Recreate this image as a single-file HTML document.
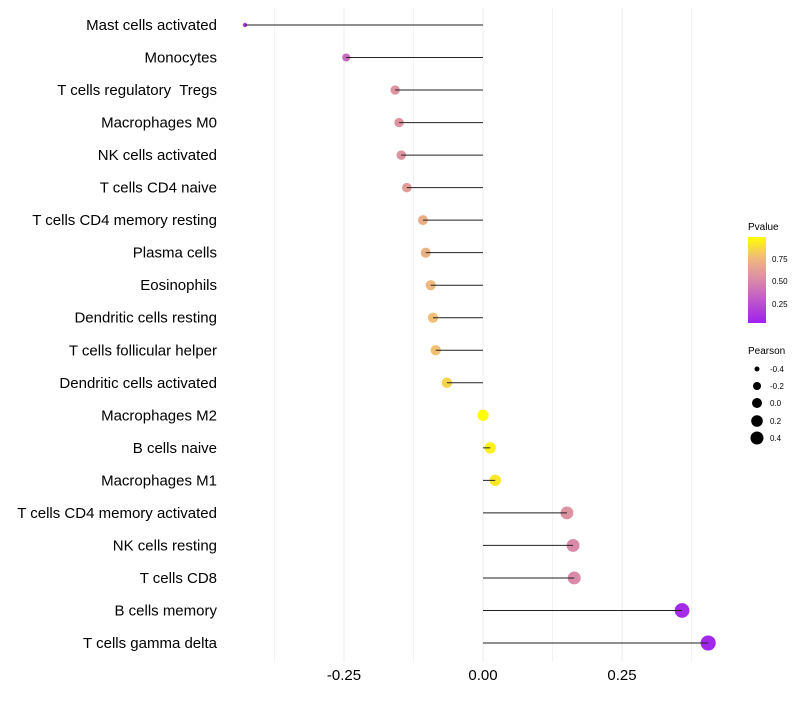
<!DOCTYPE html>
<html><head><meta charset="utf-8"><style>
body{margin:0;background:#fff;font-family:"Liberation Sans",sans-serif;}
svg text{font-family:"Liberation Sans",sans-serif;white-space:pre;}
</style></head><body>
<svg id="chart" width="800" height="700">
<defs><linearGradient id="pg" x1="0" y1="1" x2="0" y2="0">
<stop offset="0" stop-color="#A020F0"/><stop offset="0.5" stop-color="#D98AA8"/><stop offset="0.75" stop-color="#EFB880"/><stop offset="1" stop-color="#FFFF00"/></linearGradient></defs>
<g id="grid"></g><g id="dots"></g><g id="stems"></g><g id="labels"></g>
<g>
<text x="748" y="230" font-size="10">Pvalue</text>
<rect x="748" y="237" width="18" height="86" fill="url(#pg)"/>
<text x="772" y="262" font-size="8">0.75</text>
<text x="772" y="284" font-size="8">0.50</text>
<text x="772" y="307" font-size="8">0.25</text>
</g>
<g>
<text x="748" y="354" font-size="10">Pearson</text>
<circle cx="757" cy="369" r="2.5"/><text x="770" y="372" font-size="8">-0.4</text>
<circle cx="757" cy="386" r="4"/><text x="770" y="389" font-size="8">-0.2</text>
<circle cx="757" cy="403" r="5"/><text x="770" y="406" font-size="8">0.0</text>
<circle cx="757" cy="421" r="5.8"/><text x="770" y="424" font-size="8">0.2</text>
<circle cx="757" cy="438" r="6.5"/><text x="770" y="441" font-size="8">0.4</text>
</g>
</svg>
<script>
const categories=["Mast cells activated","Monocytes","T cells regulatory  Tregs","Macrophages M0","NK cells activated","T cells CD4 naive","T cells CD4 memory resting","Plasma cells","Eosinophils","Dendritic cells resting","T cells follicular helper","Dendritic cells activated","Macrophages M2","B cells naive","Macrophages M1","T cells CD4 memory activated","NK cells resting","T cells CD8","B cells memory","T cells gamma delta"];
const pearson=[-0.428,-0.246,-0.158,-0.151,-0.147,-0.137,-0.108,-0.103,-0.094,-0.090,-0.085,-0.065,0.0,0.013,0.022,0.151,0.162,0.164,0.358,0.405];
const pvalue=[0.1,0.35,0.55,0.55,0.55,0.6,0.7,0.72,0.75,0.77,0.78,0.85,1.0,0.95,0.92,0.55,0.5,0.5,0.05,0.03];
const xTicks=[-0.25,0,0.25];
const xTickLabels=["-0.25","0.00","0.25"];
const NS="http://www.w3.org/2000/svg";
const x=v=>483+v*556;
const y=i=>25+i*(618/19);
const rad=p=>1.08*Math.sqrt(Math.max(1,4+53.9*(p+0.43)));
function lerp(a,b,t){return a.map((v,k)=>Math.round(v+(b[k]-v)*t));}
const stops=[[0,[160,32,240]],[0.5,[217,138,168]],[0.75,[239,184,128]],[1,[255,255,0]]];
function col(p){for(let k=1;k<stops.length;k++){if(p<=stops[k][0]){const t=(p-stops[k-1][0])/(stops[k][0]-stops[k-1][0]);return "rgb("+lerp(stops[k-1][1],stops[k][1],t).join(",")+")";}}return "rgb(255,255,0)";}
function mk(t,a,parent){const e=document.createElementNS(NS,t);for(const k in a)e.setAttribute(k,a[k]);parent.appendChild(e);return e;}
const grid=document.getElementById('grid'),dots=document.getElementById('dots'),stems=document.getElementById('stems'),labels=document.getElementById('labels');
[-0.375,-0.25,-0.125,0,0.125,0.25,0.375].forEach(v=>{
const g=mk('line',{x1:x(v),x2:x(v),y1:8,y2:662,stroke:'#ebebeb','stroke-width':(v*8)%2===0?1:0.6},grid);


});
xTicks.forEach((v,i)=>{
const t=mk('text',{x:x(v),y:680,'font-size':15,'text-anchor':'middle',fill:'#000'},labels);
t.textContent=xTickLabels[i];


});
categories.forEach((c,i)=>{
const t=mk('text',{x:217,y:y(i)+5,'font-size':15,'text-anchor':'end',fill:'#000'},labels);
t.textContent=c;


const d=mk('circle',{cx:x(pearson[i]),cy:y(i),r:rad(pearson[i]),fill:col(pvalue[i])},dots);


const l=mk('line',{x1:x(0),x2:x(pearson[i]),y1:y(i),y2:y(i),stroke:'#222','stroke-width':1},stems);


});
</script>
</body></html>
